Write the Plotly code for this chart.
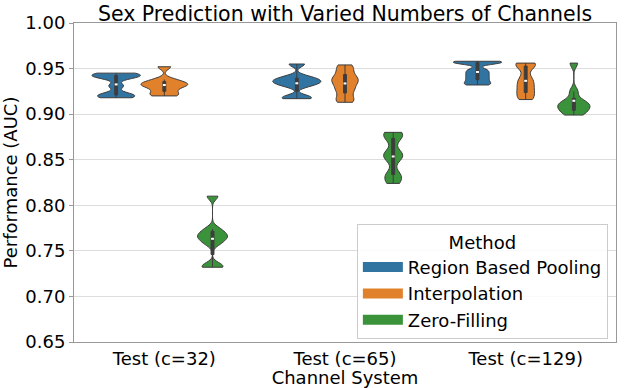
import plotly.graph_objects as go

categories = ["Test (c=32)", "Test (c=65)", "Test (c=129)"]
methods = ["Region Based Pooling", "Interpolation", "Zero-Filling"]
colors = ["#3274a1", "#e1812c", "#3a923a"]

# AUC values per method, per channel system
rbp = [
    [0.918, 0.920, 0.922, 0.931, 0.940, 0.942, 0.943, 0.945],
    [0.917, 0.919, 0.931, 0.934, 0.936, 0.938, 0.941, 0.955],
    [0.932, 0.934, 0.937, 0.940, 0.943, 0.946, 0.949, 0.956, 0.957, 0.957, 0.958],
]
interp = [
    [0.920, 0.922, 0.926, 0.930, 0.932, 0.933, 0.935, 0.938, 0.952],
    [0.913, 0.918, 0.925, 0.930, 0.935, 0.938, 0.942, 0.948, 0.954],
    [0.916, 0.920, 0.925, 0.930, 0.935, 0.940, 0.952, 0.955, 0.956],
]
zero = [
    [0.732, 0.734, 0.758, 0.763, 0.766, 0.769, 0.774, 0.810],
    [0.824, 0.830, 0.835, 0.850, 0.855, 0.858, 0.872, 0.878, 0.880],
    [0.899, 0.902, 0.905, 0.908, 0.910, 0.912, 0.915, 0.925, 0.956],
]
bandwidths = [
    [0.003, 0.003, 0.004],
    [0.003, 0.004, 0.0055],
    [0.0022, 0.005, 0.0045],
]
series = [rbp, interp, zero]

FONT = "DejaVu Sans"
EDGE = "#3d3d3d"
FS = 18

fig = go.Figure()
for mi, (name, col, data) in enumerate(zip(methods, colors, series)):
    for ci, cat in enumerate(categories):
        vals = data[ci]
        fig.add_trace(go.Violin(
            x=[cat] * len(vals), y=vals, name=name,
            legendgroup=name, showlegend=False,
            offsetgroup=name, scalegroup=cat, scalemode="width",
            spanmode="hard", bandwidth=bandwidths[ci][mi],
            fillcolor=col, line=dict(color=EDGE, width=1),
            opacity=1, points=False,
            box=dict(visible=True, width=0.06, fillcolor=EDGE,
                     line=dict(color=EDGE, width=1)),
            meanline=dict(visible=True, color="white", width=2),
            hoverinfo="y",
        ))
    # legend patch
    fig.add_trace(go.Scatter(
        x=[None], y=[None], mode="lines", name=name, legendgroup=name,
        line=dict(color=col, width=12), showlegend=True, hoverinfo="skip",
    ))

fig.update_layout(
    width=624, height=388,
    margin=dict(l=70, r=7, t=23, b=46),
    paper_bgcolor="white", plot_bgcolor="white",
    violinmode="group", violingap=0.2, violingroupgap=0,
    font=dict(family=FONT, size=FS, color="black"),
    title=dict(text="Sex Prediction with Varied Numbers of Channels",
               x=0.5, xref="paper", xanchor="center",
               y=1, yref="paper", yanchor="bottom", pad=dict(b=2),
               font=dict(size=20.5, family=FONT)),
    legend=dict(
        title=dict(text="Method", side="top center", font=dict(size=FS)),
        x=0.985, y=0.008, xanchor="right", yanchor="bottom",
        bgcolor="rgba(255,255,255,0.85)", bordercolor="#cccccc", borderwidth=1,
        font=dict(size=FS), tracegroupgap=0, itemwidth=40,
    ),
    showlegend=True,
)
fig.update_xaxes(
    categoryorder="array", categoryarray=categories,
    showline=True, mirror=True, linecolor="#999999", linewidth=1,
    ticks="", showgrid=False,
    title=dict(text="Channel System", standoff=0, font=dict(size=FS)),
    tickfont=dict(size=FS),
)
fig.update_yaxes(
    range=[0.65, 1.0], dtick=0.05, tick0=0.65, tickformat=".2f",
    showline=True, mirror=True, linecolor="#999999", linewidth=1,
    ticks="outside", ticklen=4, tickcolor="#999999",
    showgrid=True, gridcolor="#dddddd", gridwidth=1.3, zeroline=False,
    title=dict(text="Performance (AUC)", standoff=6, font=dict(size=FS)),
    tickfont=dict(size=FS),
)

fig.write_html("out.html", config={"displayModeBar": False},
               post_script="document.body.style.margin='0';")
